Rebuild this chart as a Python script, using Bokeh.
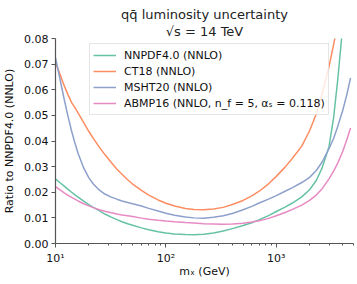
from bokeh.plotting import figure
from bokeh.models import Title, Legend, LegendItem, FixedTicker, Range1d, NumeralTickFormatter
from bokeh.embed import file_html
from bokeh.resources import INLINE

mass = [10, 11, 12, 13, 14, 15, 16, 18, 20, 22, 25, 28, 32, 36, 40, 45, 50, 60, 70, 85,
        100, 120, 150, 180, 220, 270, 330, 400, 500, 600, 700, 850, 1000, 1200, 1400,
        1700, 2000, 2300, 2600, 3000, 3300, 3600, 4000, 4400, 4700]
nnpdf = [0.0252, 0.0237, 0.0224, 0.0211, 0.0200, 0.0190, 0.0181, 0.0165, 0.0152, 0.0141,
         0.0127, 0.0115, 0.0103, 0.0093, 0.0085, 0.0077, 0.0071, 0.0061, 0.0054, 0.0046,
         0.0041, 0.0037, 0.0035, 0.0034, 0.0036, 0.0041, 0.0049, 0.0058, 0.0070, 0.0081,
         0.0093, 0.0109, 0.0125, 0.0142, 0.0158, 0.0182, 0.0210, 0.0246, 0.0295, 0.0378,
         0.0490, 0.0640, 0.0850, 0.1100, 0.1300]
ct18 = [0.0705, 0.0660, 0.0615, 0.0580, 0.0550, 0.0530, 0.0510, 0.0472, 0.0438, 0.0410,
        0.0375, 0.0347, 0.0316, 0.0290, 0.0270, 0.0249, 0.0232, 0.0207, 0.0189, 0.0170,
        0.0157, 0.0146, 0.0137, 0.0133, 0.0132, 0.0135, 0.0141, 0.0152, 0.0168, 0.0186,
        0.0204, 0.0233, 0.0262, 0.0298, 0.0333, 0.0380, 0.0440, 0.0505, 0.0585, 0.0690,
        0.0775, 0.0860, 0.1000, 0.1150, 0.1250]
msht20 = [0.0725, 0.0640, 0.0562, 0.0495, 0.0438, 0.0392, 0.0352, 0.0295, 0.0257, 0.0232,
          0.0208, 0.0193, 0.0181, 0.0173, 0.0166, 0.0160, 0.0155, 0.0146, 0.0137, 0.0127,
          0.0118, 0.0110, 0.0103, 0.0100, 0.0099, 0.0102, 0.0108, 0.0117, 0.0132, 0.0145,
          0.0158, 0.0173, 0.0187, 0.0204, 0.0218, 0.0238, 0.0258, 0.0285, 0.0318, 0.0370,
          0.0410, 0.0457, 0.0520, 0.0590, 0.0646]
abmp16 = [0.0222, 0.0209, 0.0198, 0.0188, 0.0180, 0.0173, 0.0166, 0.0155, 0.0147, 0.0140,
          0.0132, 0.0126, 0.0120, 0.0115, 0.0111, 0.0108, 0.0105, 0.0099, 0.0095, 0.0091,
          0.0088, 0.0085, 0.0082, 0.0080, 0.0077, 0.0076, 0.0075, 0.0076, 0.0079, 0.0084,
          0.0089, 0.0098, 0.0108, 0.0121, 0.0133, 0.0150, 0.0168, 0.0189, 0.0214, 0.0252,
          0.0282, 0.0314, 0.0360, 0.0412, 0.0451]

labels = ["NNPDF4.0 (NNLO)", "CT18 (NNLO)", "MSHT20 (NNLO)",
          "ABMP16 (NNLO, n_f = 5, αₛ = 0.118)"]
colors = ["#66c2a5", "#fc8d62", "#8da0cb", "#e78ac3"]
series = [nnpdf, ct18, msht20, abmp16]

title_lines = ["qq̄ luminosity uncertainty", "√s = 14 TeV"]

x_ticks = [10, 100, 1000]
x_tick_labels = {10: "10¹", 100: "10²", 1000: "10³"}
x_minor = [20, 30, 40, 50, 60, 70, 80, 90, 200, 300, 400, 500, 600, 700, 800, 900,
           2000, 3000, 4000, 5000]
y_ticks = [0.0, 0.01, 0.02, 0.03, 0.04, 0.05, 0.06, 0.07, 0.08]

FONT = "DejaVu Sans"

p = figure(width=357, height=284, x_axis_type="log",
           x_range=Range1d(10, 5000), y_range=Range1d(0, 0.08),
           output_backend="svg", toolbar_location=None,
           min_border_left=53, min_border_right=4, min_border_top=38,
           min_border_bottom=41)

p.title.text = title_lines[0]
p.title.align = "center"
p.title.text_font = FONT
p.title.text_font_size = "13px"
p.title.text_font_style = "normal"
p.title.text_color = "#222222"
p.title.standoff = 0
p.add_layout(Title(text=title_lines[1], align="center", text_font=FONT,
                   text_font_size="13px", text_font_style="normal",
                   text_color="#222222", standoff=0), "above")

p.outline_line_color = None
p.xgrid.visible = False
p.ygrid.visible = False

renderers = []
for ys, c in zip(series, colors):
    r = p.line(mass, ys, line_color=c, line_width=1.5)
    renderers.append(r)

for ax in (p.xaxis[0], p.yaxis[0]):
    ax.axis_line_color = "#555555"
    ax.axis_line_width = 1.2
    ax.major_tick_line_color = "#555555"
    ax.minor_tick_line_color = "#555555"
    ax.major_tick_out = 4
    ax.major_tick_in = 0
    ax.minor_tick_out = 2
    ax.minor_tick_in = 0
    ax.major_label_text_font = FONT
    ax.major_label_text_font_size = "11px"
    ax.major_label_text_color = "#111111"
    ax.axis_label_text_font = FONT
    ax.axis_label_text_font_size = "11px"
    ax.axis_label_text_font_style = "normal"
    ax.axis_label_text_color = "#111111"

p.xaxis.ticker = FixedTicker(ticks=x_ticks, minor_ticks=x_minor)
p.xaxis.major_label_overrides = x_tick_labels
p.xaxis.axis_label = "mₓ (GeV)"
p.xaxis.axis_label_standoff = -3
p.xaxis.major_label_standoff = 4

p.yaxis.ticker = FixedTicker(ticks=y_ticks)
p.yaxis.formatter = NumeralTickFormatter(format="0.00")
p.yaxis.minor_tick_line_color = None
p.yaxis.axis_label = "Ratio to NNPDF4.0 (NNLO)"
p.yaxis.axis_label_standoff = 5
p.yaxis.major_label_standoff = 3

frame_h = 205
legend = Legend(items=[LegendItem(label=l, renderers=[r]) for l, r in zip(labels, renderers)],
                location=(34, frame_h - 9 - 68),
                label_text_font=FONT, label_text_font_size="11px", label_text_color="#111111",
                label_height=16, glyph_height=16, glyph_width=23, label_standoff=8,
                spacing=0, padding=3, margin=0,
                border_line_color="#cccccc", border_line_width=1,
                background_fill_color="white", background_fill_alpha=0.8)
p.add_layout(legend)

open("out.html", "w").write(file_html(p, INLINE))
